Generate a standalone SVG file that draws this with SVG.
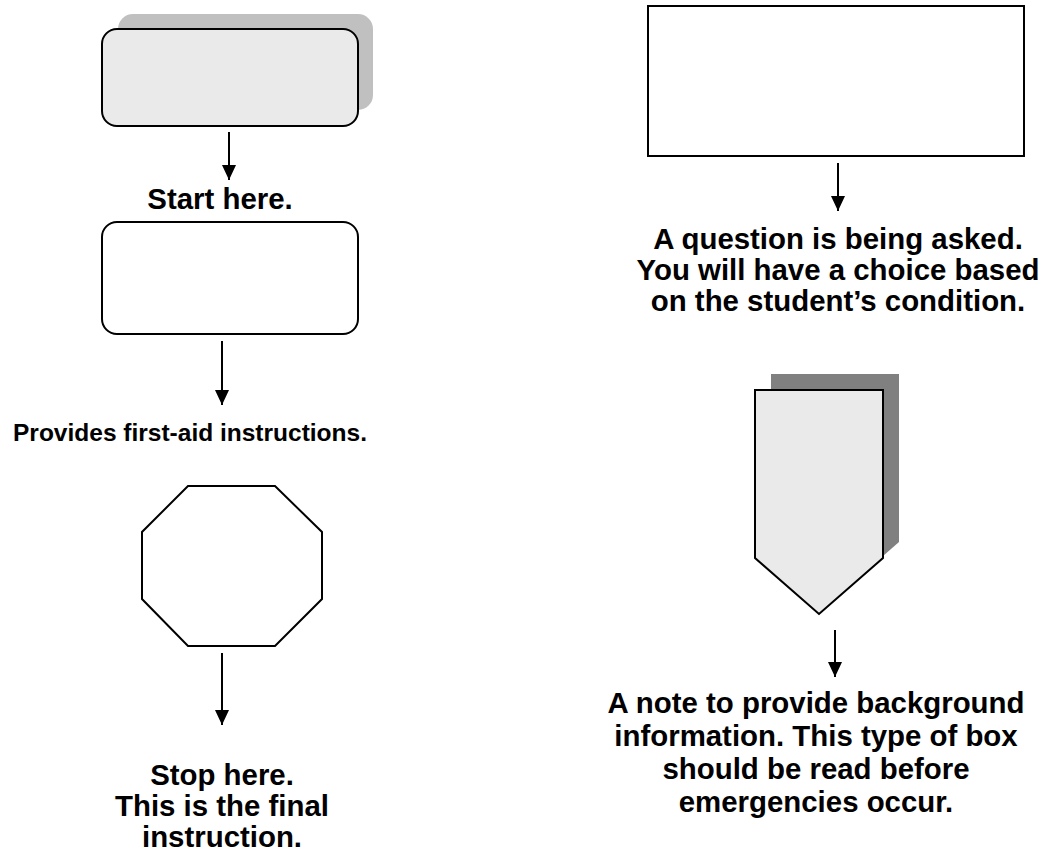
<svg xmlns="http://www.w3.org/2000/svg" width="1043" height="855" viewBox="0 0 1043 855">
  <style>
    .label { font-family: "Liberation Sans", Arial, sans-serif; font-weight: bold; font-size: 29.4px; fill: #000; text-anchor: middle; }
    .small { font-size: 24.5px; }
    .outline { stroke: #000; stroke-width: 2; }
    .flow { stroke: #000; stroke-width: 2; fill: none; marker-end: url(#arrowhead); }
  </style>
  <defs>
    <marker id="arrowhead" markerUnits="userSpaceOnUse" markerWidth="16" markerHeight="16" refX="15" refY="7" orient="auto">
      <path d="M0,0 L15,7 L0,14 z" fill="#000"/>
    </marker>
  </defs>
  <rect width="1043" height="855" fill="#fff"/>

  <!-- start terminator with drop shadow -->
  <g id="start-node">
    <rect x="118" y="14" width="255" height="96" rx="15" fill="#c0c0c0"/>
    <rect class="outline" x="102" y="29" width="256" height="97" rx="15" fill="#eaeaea"/>
  </g>
  <g id="start-label">
    <text class="label" x="220" y="209">Start here.</text>
  </g>

  <!-- instruction box -->
  <g id="instruction-node">
    <rect class="outline" x="102" y="222" width="256" height="112" rx="15" fill="#fff"/>
  </g>
  <g id="instruction-label">
    <text class="label small" x="190" y="441">Provides first-aid instructions.</text>
  </g>

  <!-- stop octagon -->
  <g id="stop-node">
    <polygon class="outline" points="188,486 275,486 322,532 322,599 275,646 188,646 142,599 142,532" fill="#fff"/>
  </g>
  <g id="stop-label">
    <text class="label" x="222" y="785">Stop here.</text>
    <text class="label" x="222" y="816">This is the final</text>
    <text class="label" x="222" y="847">instruction.</text>
  </g>

  <!-- question box -->
  <g id="question-node">
    <rect class="outline" x="648" y="6" width="376" height="150" fill="#fff"/>
  </g>
  <g id="question-label">
    <text class="label" x="838" y="249">A question is being asked.</text>
    <text class="label" x="838" y="280">You will have a choice based</text>
    <text class="label" x="838" y="311">on the student’s condition.</text>
  </g>

  <!-- note pentagon with drop shadow -->
  <g id="note-node">
    <polygon points="771,374 899,374 899,542 835,598 771,542" fill="#808080"/>
    <polygon class="outline" points="755,390 883,390 883,558 819,614 755,558" fill="#eaeaea"/>
  </g>
  <g id="note-label">
    <text class="label" x="816" y="713">A note to provide background</text>
    <text class="label" x="816" y="746">information. This type of box</text>
    <text class="label" x="816" y="779">should be read before</text>
    <text class="label" x="816" y="812">emergencies occur.</text>
  </g>

  <!-- connectors -->
  <g id="connectors">
    <line class="flow" x1="229" y1="132" x2="229" y2="180"/>
    <line class="flow" x1="222" y1="341" x2="222" y2="405"/>
    <line class="flow" x1="222" y1="653" x2="222" y2="725"/>
    <line class="flow" x1="838" y1="163" x2="838" y2="211"/>
    <line class="flow" x1="835" y1="630" x2="835" y2="677"/>
  </g>
</svg>
